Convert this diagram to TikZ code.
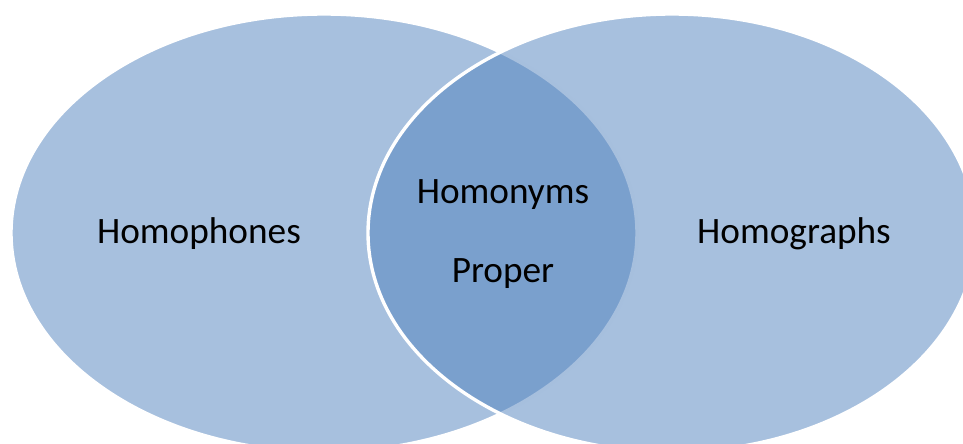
\documentclass[tikz,border=0pt]{standalone}
\usepackage{fontspec}
\setmainfont{Carlito}
\usetikzlibrary{positioning}

\definecolor{vennblue}{HTML}{4F81BD}

\begin{document}
\begin{tikzpicture}[x=0.025cm, y=-0.025cm]
  % --- Styles ---
  \tikzset{
    venn set/.style={fill=vennblue, fill opacity=0.5, draw=white, line width=2.4pt},
    venn label/.style={anchor=base, font=\fontsize{26.5}{30}\selectfont, text=black}
  }

  % Frame of the picture (pixel units, y downwards)
  \useasboundingbox (0,0) rectangle (963,443);
  \clip (0,0) rectangle (963,443);

  % Centres of the two sets
  \coordinate (L) at (324,233);
  \coordinate (R) at (672,233);

  % --- The two overlapping sets ---
  \draw[venn set] (L) ellipse [x radius=313, y radius=219];
  \draw[venn set] (R) ellipse [x radius=304, y radius=219];

  % --- Labels ---
  \node[venn label] (homophones) at (199,243) {Homophones};
  \node[venn label] (homographs) at (794,243) {Homographs};
  \node[venn label] (homonyms) at (503,203) {Homonyms};
  \node[venn label] (proper) at (503,282) {Proper};

\end{tikzpicture}
\end{document}
